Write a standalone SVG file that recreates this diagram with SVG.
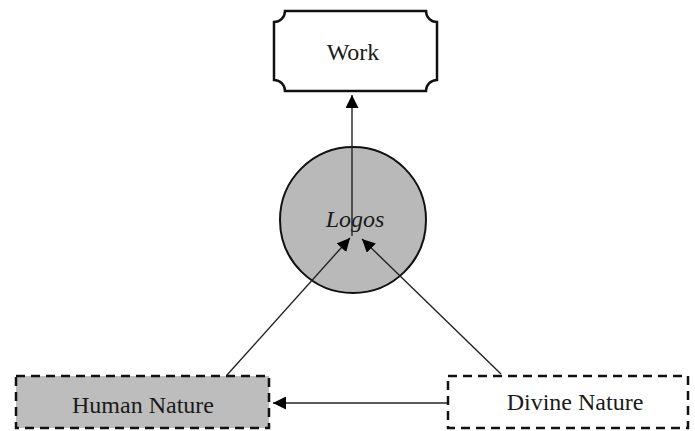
<svg xmlns="http://www.w3.org/2000/svg" width="695" height="431" viewBox="0 0 695 431">
<style>
.lbl{font-family:"Liberation Serif","Times New Roman",serif;font-size:24px;fill:#1a1a1a;text-anchor:middle}
.conn{stroke:#222;stroke-width:1.4;fill:none}
.dash{stroke:#111;stroke-width:2.5;stroke-dasharray:9 6}
</style>
<defs>
<marker id="ah" viewBox="0 0 10 10" refX="10" refY="5" markerWidth="13" markerHeight="13" markerUnits="userSpaceOnUse" orient="auto">
<path d="M0,0 L10,5 L0,10 z" fill="#000"/>
</marker>
</defs>
<rect width="695" height="431" fill="#fff"/>
<g id="work">
<path d="M285,11 H426 A11,11 0 0 0 437,22 V80 A11,11 0 0 0 426,91 H285 A11,11 0 0 0 274,80 V22 A11,11 0 0 0 285,11 Z" fill="#fff" stroke="#111" stroke-width="2.5"/>
<text class="lbl" x="353" y="60">Work</text>
</g>
<g id="logos">
<circle cx="353" cy="220" r="73" fill="#b9b9b9" stroke="#111" stroke-width="2"/>
<text class="lbl" x="355" y="227" font-style="italic">Logos</text>
</g>
<g id="human">
<rect x="16" y="376" width="253" height="52" fill="#bdbdbd" class="dash"/>
<text class="lbl" x="143" y="413">Human Nature</text>
</g>
<g id="divine">
<rect x="448" y="376" width="240" height="52" fill="#fff" class="dash"/>
<text class="lbl" x="575" y="410">Divine Nature</text>
</g>
<g id="connectors">
<line class="conn" x1="352" y1="236" x2="352" y2="95" marker-end="url(#ah)"/>
<line class="conn" x1="227" y1="375" x2="350" y2="238" marker-end="url(#ah)"/>
<line class="conn" x1="501" y1="374" x2="362" y2="239" marker-end="url(#ah)"/>
<line class="conn" x1="447" y1="403" x2="273" y2="403" marker-end="url(#ah)"/>
</g>
</svg>
